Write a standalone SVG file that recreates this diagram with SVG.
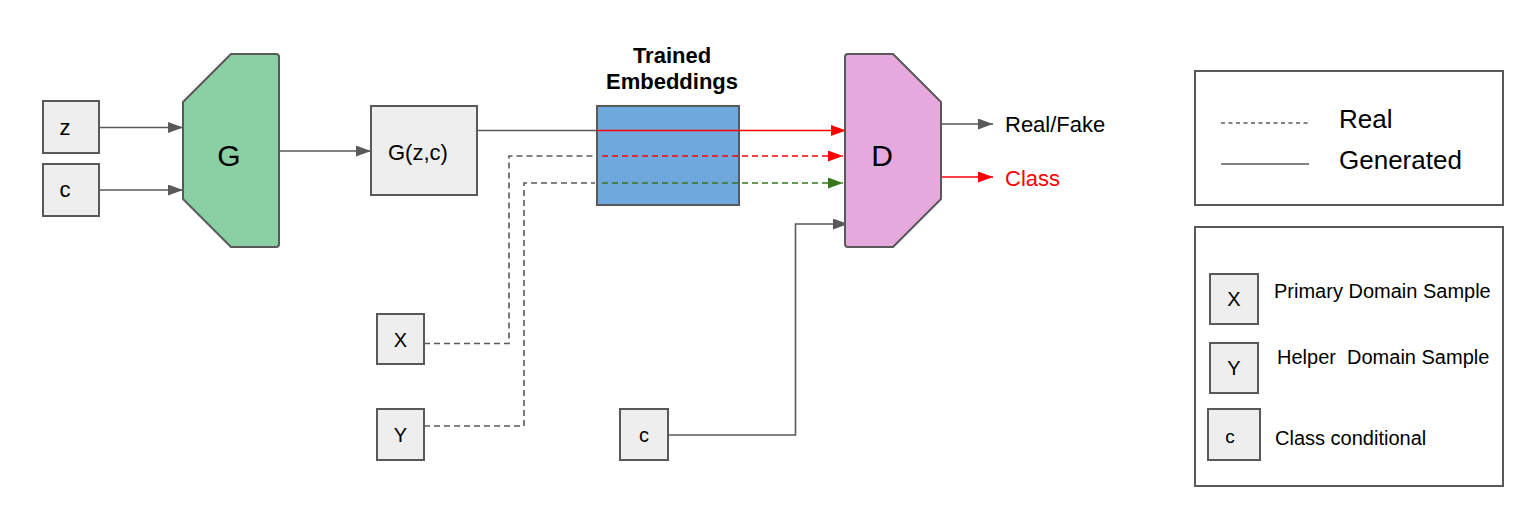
<svg xmlns="http://www.w3.org/2000/svg" width="1534" height="518" viewBox="0 0 1534 518">
<defs>
<marker id="ag" viewBox="0 0 15 11" refX="15" refY="5.5" markerWidth="15" markerHeight="11" markerUnits="userSpaceOnUse" orient="auto"><path d="M0,0 L15,5.5 L0,11 z" fill="#595959"/></marker>
<marker id="ar" viewBox="0 0 15 11" refX="15" refY="5.5" markerWidth="15" markerHeight="11" markerUnits="userSpaceOnUse" orient="auto"><path d="M0,0 L15,5.5 L0,11 z" fill="#ff0000"/></marker>
<marker id="agr" viewBox="0 0 15 11" refX="15" refY="5.5" markerWidth="15" markerHeight="11" markerUnits="userSpaceOnUse" orient="auto"><path d="M0,0 L15,5.5 L0,11 z" fill="#38761d"/></marker>
</defs>
<style>
text{font-family:"Liberation Sans",Arial,sans-serif;fill:#000}
.box{fill:#eeeeee;stroke:#595959;stroke-width:2}
.lg{fill:#ffffff;stroke:#595959;stroke-width:2}
.c{fill:none;stroke:#595959;stroke-width:1.6}
.d{stroke-dasharray:6,4}
.red{stroke:#ff0000}
.grn{stroke:#38761d}
</style>
<rect width="1534" height="518" fill="#ffffff"/>

<g id="connectors">
<line class="c" x1="99" y1="127.5" x2="183" y2="127.5" marker-end="url(#ag)"/>
<line class="c" x1="99" y1="190" x2="183" y2="190" marker-end="url(#ag)"/>
<line class="c" x1="279" y1="151" x2="371" y2="151" marker-end="url(#ag)"/>
<line class="c" x1="477" y1="130.5" x2="598" y2="130.5"/>
<polyline class="c d" points="424,343.5 509,343.5 509,156 595,156"/>
<polyline class="c d" points="424,426 524,426 524,183 595,183"/>
<polyline class="c" points="668,435 795.5,435 795.5,224 848,224" marker-end="url(#ag)"/>
<line class="c" x1="941" y1="124" x2="993" y2="124" marker-end="url(#ag)"/>
<line class="c red" x1="941" y1="177" x2="993" y2="177" marker-end="url(#ar)"/>
</g>

<g id="z"><rect class="box" x="43" y="101" width="56" height="52"/><text x="65" y="135" font-size="22" text-anchor="middle">z</text></g>
<g id="c1"><rect class="box" x="43" y="164" width="56" height="52"/><text x="65" y="197" font-size="22" text-anchor="middle">c</text></g>
<g id="G"><path d="M231,54 L276,54 Q279,54 279,57 L279,244 Q279,247 276,247 L231,247 L183,199 L183,102 Z" fill="#8bcfa5" stroke="#595959" stroke-width="2" stroke-linejoin="round"/><text x="229" y="166" font-size="30" text-anchor="middle">G</text></g>
<g id="Gzc"><rect class="box" x="371" y="106" width="106" height="89"/><text x="388" y="160" font-size="22">G(z,c)</text></g>
<g id="emb"><rect x="597" y="106" width="142" height="99" fill="#6fa8dc" stroke="#595959" stroke-width="2"/>
<text x="672" y="63" font-size="22" font-weight="bold" text-anchor="middle">Trained</text>
<text x="672" y="89" font-size="22" font-weight="bold" text-anchor="middle">Embeddings</text></g>

<g id="connectors-over">
<line class="c red" x1="597" y1="130.5" x2="846" y2="130.5" marker-end="url(#ar)"/>
<line class="c red d" x1="602" y1="156" x2="843" y2="156" marker-end="url(#ar)"/>
<line class="c grn d" x1="602" y1="183" x2="843" y2="183" marker-end="url(#agr)"/>
</g>

<g id="D"><path d="M848,54 L893,54 L941,102 L941,199 L893,247 L848,247 Q845,247 845,244 L845,57 Q845,54 848,54 Z" fill="#e6a9de" stroke="#595959" stroke-width="2" stroke-linejoin="round"/><text x="882" y="166" font-size="30" text-anchor="middle">D</text></g>
<g id="realfake"><text x="1005" y="132" font-size="22">Real/Fake</text></g>
<g id="class"><text x="1005" y="186" font-size="22" style="fill:#ff0000">Class</text></g>

<g id="X"><rect class="box" x="377" y="314" width="47" height="50"/><text x="400.5" y="347" font-size="20" text-anchor="middle">X</text></g>
<g id="Y"><rect class="box" x="377" y="409" width="47" height="51"/><text x="400.5" y="442" font-size="20" text-anchor="middle">Y</text></g>
<g id="c2"><rect class="box" x="620" y="409" width="48" height="51"/><text x="644" y="442" font-size="20" text-anchor="middle">c</text></g>

<g id="legend1"><rect class="lg" x="1195" y="71" width="308" height="134"/>
<line x1="1221" y1="123" x2="1309" y2="123" stroke="#595959" stroke-width="1.5" stroke-dasharray="4,3.5"/>
<line x1="1221" y1="164" x2="1309" y2="164" stroke="#595959" stroke-width="1.5"/>
<text x="1339" y="128" font-size="26">Real</text>
<text x="1339" y="169" font-size="26">Generated</text></g>

<g id="legend2"><rect class="lg" x="1195" y="227" width="308" height="259"/>
<rect class="box" x="1210" y="274" width="48" height="50"/><text x="1234" y="306" font-size="20" text-anchor="middle">X</text>
<rect class="box" x="1210" y="343" width="48" height="50"/><text x="1234" y="375" font-size="20" text-anchor="middle">Y</text>
<rect class="box" x="1208" y="409" width="52" height="51"/><text x="1230" y="443" font-size="19" text-anchor="middle">c</text>
<text x="1274" y="298" font-size="20">Primary Domain Sample</text>
<text x="1277" y="364" font-size="20" xml:space="preserve">Helper  Domain Sample</text>
<text x="1275" y="445" font-size="20">Class conditional</text></g>
</svg>
